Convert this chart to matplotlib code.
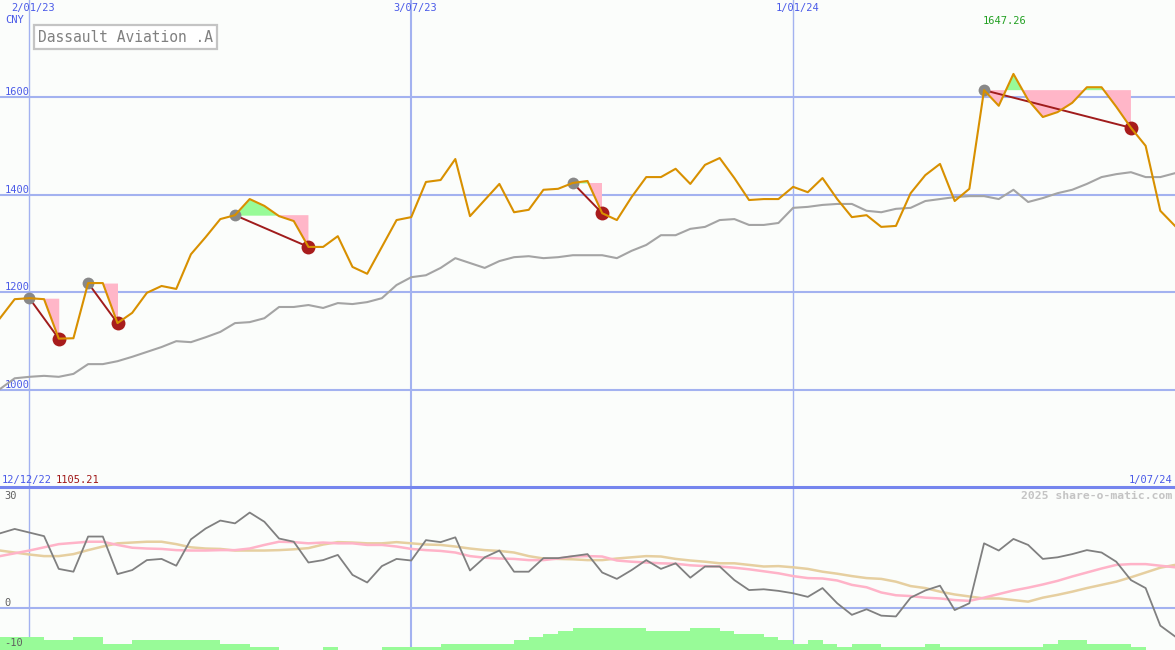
import matplotlib
matplotlib.use("Agg")
import matplotlib.pyplot as plt
import matplotlib.dates as mdates
from matplotlib.lines import Line2D
import numpy as np
import pandas as pd

# weekly data, Dassault Aviation
dates = pd.date_range("2022-12-19", periods=81, freq="7D")

close = [1147, 1186, 1188, 1186, 1105.21, 1106, 1219, 1219, 1137, 1158,
         1199, 1213, 1207, 1278, 1313, 1350, 1358, 1391, 1377, 1356,
         1346, 1293, 1293, 1315, 1252, 1238, 1293, 1348, 1354, 1426,
         1430, 1473, 1356, 1389, 1422, 1364, 1369, 1410, 1412, 1424,
         1428, 1362, 1348, 1395, 1436, 1436, 1453, 1422, 1461, 1475,
         1434, 1389, 1391, 1391, 1416, 1405, 1434, 1391, 1354, 1358,
         1334, 1336, 1403, 1440, 1463, 1387, 1412, 1614, 1582, 1647.26,
         1594, 1559, 1569, 1588, 1620, 1620, 1580, 1537, 1500, 1367, 1336]

avg = [1002, 1024, 1027, 1029, 1027, 1033, 1053, 1053, 1059, 1068,
       1078, 1088, 1100, 1098, 1108, 1119, 1137, 1139, 1147, 1170,
       1170, 1174, 1168, 1178, 1176, 1180, 1188, 1215, 1231, 1235,
       1250, 1270, 1260, 1250, 1264, 1272, 1274, 1270, 1272, 1276,
       1276, 1276, 1270, 1285, 1297, 1317, 1317, 1330, 1334, 1348,
       1350, 1338, 1338, 1342, 1373, 1375, 1379, 1381, 1381, 1367,
       1364, 1371, 1373, 1387, 1391, 1395, 1397, 1397, 1391, 1410,
       1385, 1393, 1403, 1410, 1422, 1436, 1442, 1446, 1436, 1436, 1444]

momentum = [18.6, 19.7, 18.8, 17.9, 9.7, 9.0, 17.8, 17.8, 8.4, 9.4,
            11.9, 12.2, 10.5, 17.1, 19.8, 21.8, 21.1, 23.8, 21.5, 17.3,
            16.5, 11.3, 11.9, 13.2, 8.2, 6.3, 10.4, 12.2, 11.8, 16.9,
            16.4, 17.6, 9.3, 12.6, 14.3, 9.0, 9.0, 12.4, 12.4, 12.9,
            13.4, 8.8, 7.2, 9.4, 11.9, 9.7, 11.1, 7.5, 10.3, 10.3,
            6.9, 4.4, 4.6, 4.2, 3.6, 2.7, 4.9, 1.1, -1.8, -0.4,
            -2.0, -2.2, 2.5, 4.3, 5.5, -0.6, 1.1, 16.1, 14.3, 17.2,
            15.7, 12.2, 12.6, 13.4, 14.4, 13.8, 11.5, 6.9, 4.9, -4.5, -7.2]

fast = [12.9, 13.6, 14.3, 15.1, 15.9, 16.2, 16.5, 16.5, 15.7, 15.0,
        14.8, 14.7, 14.4, 14.3, 14.3, 14.4, 14.4, 14.8, 15.7, 16.5,
        16.4, 16.1, 16.3, 16.1, 16.1, 15.7, 15.7, 15.3, 14.7, 14.4,
        14.2, 13.8, 12.9, 12.5, 12.3, 12.2, 11.9, 11.9, 12.3, 12.8,
        12.9, 12.8, 11.8, 11.5, 11.3, 11.1, 11.0, 10.6, 10.4, 10.3,
        10.0, 9.6, 9.1, 8.6, 7.9, 7.4, 7.3, 6.8, 5.7, 5.1,
        3.8, 3.1, 2.9, 2.5, 2.3, 1.9, 1.7, 2.5, 3.4, 4.3,
        5.0, 5.8, 6.7, 7.8, 8.8, 9.8, 10.7, 10.9, 10.9, 10.5, 10.1]

slow = [14.3, 13.8, 13.3, 12.9, 12.9, 13.4, 14.4, 15.3, 16.1, 16.3,
        16.5, 16.5, 15.9, 15.1, 14.8, 14.7, 14.3, 14.3, 14.3, 14.4,
        14.6, 14.9, 15.8, 16.4, 16.3, 16.1, 16.1, 16.4, 16.1, 15.8,
        15.7, 15.3, 14.8, 14.4, 14.2, 13.8, 12.9, 12.3, 12.2, 12.1,
        11.9, 11.9, 12.3, 12.6, 12.9, 12.8, 12.2, 11.8, 11.5, 11.1,
        11.1, 10.7, 10.3, 10.4, 10.1, 9.7, 9.0, 8.5, 7.9, 7.4,
        7.2, 6.5, 5.4, 4.9, 4.0, 3.3, 2.8, 2.3, 2.3, 1.9,
        1.5, 2.5, 3.2, 4.0, 4.9, 5.7, 6.5, 7.6, 8.8, 10.0, 10.7]

volume = [4, 4, 4, 3, 3, 4, 4, 2, 2, 3,
          3, 3, 3, 3, 3, 2, 2, 1, 1, 0,
          0, 0, 1, 0, 0, 0, 1, 1, 1, 1,
          2, 2, 2, 2, 2, 3, 4, 5, 6, 7,
          7, 7, 7, 7, 6, 6, 6, 7, 7, 6,
          5, 5, 4, 3, 2, 3, 2, 1, 2, 2,
          1, 1, 1, 2, 1, 1, 1, 1, 1, 1,
          1, 2, 3, 3, 2, 2, 2, 1, 0, 0, 0]

# (sell signal week, exit week)
signals = [(2, 4), (6, 8), (16, 21), (39, 41), (67, 77)]

price_levels = [1000, 1200, 1400, 1600]
marker_dates = ["2023-01-02", "2023-07-03", "2024-01-01"]
marker_labels = ["2/01/23", "3/07/23", "1/01/24"]

x = mdates.date2num(dates)
close = np.array(close)

bg = "#fbfdfb"
grid_c = "#a3b2f0"
label_c = "#4a5ae8"
mono = "DejaVu Sans Mono"

fig = plt.figure(figsize=(11.75, 6.5), dpi=100)
fig.patch.set_facecolor(bg)
ax = fig.add_axes([0, 163 / 650, 1, 487 / 650])
ax2 = fig.add_axes([0, 0, 1, 163 / 650])
for a in (ax, ax2):
    a.set_facecolor(bg)
    a.set_xlim(x[0], x[-1])
    a.set_xticks([])
    a.set_yticks([])
    for s in a.spines.values():
        s.set_visible(False)
    for d, lw in zip(marker_dates, [1.0, 1.5, 1.0]):
        a.axvline(mdates.date2num(pd.Timestamp(d)), color=grid_c, lw=lw, zorder=1)

# --- price panel ---
ax.set_ylim(801.4, 1798.6)
for lv in price_levels:
    ax.axhline(lv, color=grid_c, lw=1.5, zorder=1)
    ax.text(0.004, lv, str(lv), transform=ax.get_yaxis_transform(), fontsize=7.5,
            family=mono, color=label_c, va="bottom", ha="left")

for s, e in signals:
    xs = x[s:e + 1]
    ys = close[s:e + 1]
    lvl = close[s]
    ax.fill_between(xs, lvl, ys, where=ys <= lvl, interpolate=True,
                    color="#ffb6c8", lw=0, zorder=2)
    ax.fill_between(xs, lvl, ys, where=ys >= lvl, interpolate=True,
                    color="#98fb98", lw=0, zorder=2)

ax.plot(x, avg, color="#a4a4a4", lw=1.5, zorder=3)

for s, e in signals:
    ax.plot([x[s], x[e]], [close[s], close[e]], color="#a01c1c", lw=1.4, zorder=4)
    ax.plot(x[s], close[s], "o", color="#888888", ms=8.5, mec="none", zorder=5)
    ax.plot(x[e], close[e], "o", color="#a81c1c", ms=10, mec="none", zorder=5)

ax.plot(x, close, color="#d89000", lw=1.5, zorder=6)

imax = int(np.argmax(close))
ax.text(x[imax] - 4, 1755, f"{close[imax]:.2f}", fontsize=7.5, family=mono,
        color="#22a022", ha="center", va="center")
imin = int(np.argmin(close))

for d, lab in zip(marker_dates, marker_labels):
    ax.text(mdates.date2num(pd.Timestamp(d)) + 2, 1 - 8 / 487, lab,
            transform=ax.get_xaxis_transform(), fontsize=7.5, family=mono,
            color=label_c, ha="center", va="center")
fig.text(5 / 1175, 1 - 20 / 650, "CNY", fontsize=7.5, family=mono, color=label_c,
         ha="left", va="center")
fig.text(38 / 1175, 1 - 37 / 650, "Dassault Aviation .A", fontsize=10.5, family=mono,
         color="#808080", ha="left", va="center",
         bbox=dict(boxstyle="square,pad=0.3", fc="white", ec="#c4c4c4", lw=1.6))

# --- indicator panel ---
ax2.set_ylim(-10.6, 30.2)
ax2.axhline(0, color=grid_c, lw=1.5, zorder=1)
ax2.bar(x, np.array(volume) * 0.8, width=7, bottom=-10.6, align="edge",
        color="#98fb98", lw=0, zorder=2)
ax2.plot(x, slow, color="#e6cfa0", lw=1.8, zorder=3)
ax2.plot(x, fast, color="#ffb3c8", lw=1.8, zorder=3)
ax2.plot(x, momentum, color="#808080", lw=1.3, zorder=4)

for v, ypos, va in [(30, 29.2, "top"), (0, 0, "bottom"), (-10, -10, "bottom")]:
    ax2.text(0.004, ypos, str(v), transform=ax2.get_yaxis_transform(), fontsize=7.5,
             family=mono, color="#606060", ha="left", va=va, zorder=6)

fig.add_artist(Line2D([0, 1], [163 / 650, 163 / 650], transform=fig.transFigure,
                      color="#7585ee", lw=2.2))
fig.text(2 / 1175, 1 - 480 / 650, "12/12/22", fontsize=7.5, family=mono,
         color=label_c, ha="left", va="center")
fig.text(56 / 1175, 1 - 480 / 650, f"{close[imin]:.2f}", fontsize=7.5, family=mono,
         color="#a01818", ha="left", va="center")
fig.text(1172 / 1175, 1 - 480 / 650, "1/07/24", fontsize=7.5, family=mono,
         color=label_c, ha="right", va="center")
fig.text(1172 / 1175, 1 - 496 / 650, "2025 share-o-matic.com", fontsize=8.2, family=mono,
         color="#c4c4c4", ha="right", va="center", weight="bold")

fig.savefig("out.png", dpi=100, facecolor=bg)
